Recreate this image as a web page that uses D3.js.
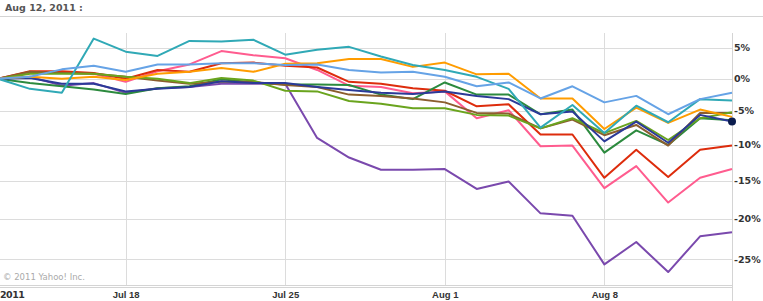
<!DOCTYPE html>
<html>
<head>
<meta charset="utf-8">
<script src="https://cdn.jsdelivr.net/npm/d3@7"></script>
<style>
  body { margin: 0; background: #fff; }
  svg { display: block; font-family: "DejaVu Sans", Verdana, sans-serif; }
  .grid line { stroke: #dcdcdc; stroke-width: 1; shape-rendering: crispEdges; }
  .frame { stroke: #d4d4d4; stroke-width: 1; shape-rendering: crispEdges; }
  .ylab, .xlab { font-size: 9.5px; font-weight: bold; fill: #333; }
  .title { font-size: 9.5px; font-weight: bold; fill: #555; }
  .copy { font-size: 8.5px; fill: #aaa; }
  .series { fill: none; stroke-width: 2; stroke-linejoin: round; }
</style>
</head>
<body>
<svg id="chart" width="763" height="301"></svg>
<script>
// trading days shown on the chart
const dates = ["2011-07-12","2011-07-13","2011-07-14","2011-07-15",
  "2011-07-18","2011-07-19","2011-07-20","2011-07-21","2011-07-22",
  "2011-07-25","2011-07-26","2011-07-27","2011-07-28","2011-07-29",
  "2011-08-01","2011-08-02","2011-08-03","2011-08-04","2011-08-05",
  "2011-08-08","2011-08-09","2011-08-10","2011-08-11","2011-08-12"];

// % change since first day
const purple   = [0, 0.3, -1.1, -0.7, -2.2, -1.5, -1.3, -0.8, -0.8, -0.8, -9.0, -11.8, -13.5, -13.5, -13.4, -16.1, -15.1, -19.3, -19.6, -25.6, -22.9, -26.5, -22.2, -21.7];
const pink     = [0, 0.9, 1.0, 0.8, -0.5, 1.2, 2.3, 4.5, 3.8, 3.3, 1.4, -1.1, -1.3, -2.3, -2.0, -6.1, -4.9, -10.2, -10.1, -16.0, -13.0, -17.9, -14.6, -13.4];
const red      = [0, 1.2, 1.2, 0.9, 0.0, 1.4, 1.1, 2.5, 2.6, 2.1, 1.8, -0.5, -0.8, -1.5, -1.9, -4.3, -4.0, -8.5, -8.5, -14.6, -10.7, -14.5, -10.7, -10.1];
const dkGreen  = [0, -0.7, -1.2, -1.7, -2.4, -1.5, -1.2, -0.1, -0.6, -0.9, -0.9, -1.0, -2.5, -3.2, -0.6, -2.5, -2.5, -5.5, -4.8, -11.1, -7.9, -10.0, -6.1, -6.4];
const brown    = [0, 1.1, 0.9, 0.8, 0.3, -0.3, -0.8, -0.5, -0.5, -1.0, -1.3, -2.5, -2.7, -3.1, -3.7, -5.3, -5.4, -7.6, -6.3, -8.6, -7.1, -10.1, -5.3, -5.3];
const lime     = [0, 0.8, 0.8, 0.8, 0.3, 0.0, -0.7, 0.1, -0.3, -1.9, -2.0, -3.5, -3.9, -4.6, -4.6, -5.6, -5.7, -7.6, -6.1, -8.3, -6.5, -9.3, -6.1, -5.2];
const navy     = [0, 0.1, -0.8, -0.8, -2.0, -1.6, -1.3, -0.4, -0.7, -0.7, -1.3, -1.8, -2.2, -2.4, -2.0, -2.7, -3.2, -5.5, -5.1, -9.5, -6.6, -9.7, -5.6, -6.6];
const orange   = [0, 0.3, 0.0, 0.3, -0.2, 0.8, 1.1, 1.7, 1.1, 2.4, 2.5, 3.2, 3.2, 1.9, 2.6, 0.7, 0.8, -3.1, -3.1, -7.7, -4.5, -6.8, -4.8, -5.9];
const teal     = [0, -1.6, -2.2, 6.6, 4.4, 3.7, 6.2, 6.1, 6.4, 3.9, 4.7, 5.2, 3.6, 2.2, 1.4, 0.3, -1.6, -7.5, -4.1, -8.3, -4.2, -6.7, -3.2, -3.4];
const ltBlue   = [0, 0.3, 1.5, 2.1, 1.1, 2.3, 2.3, 2.5, 2.5, 2.2, 2.3, 1.4, 1.0, 1.1, 0.3, -1.2, -0.6, -3.1, -1.2, -3.7, -2.7, -5.5, -3.2, -2.2];

const seriesList = [purple, pink, red, dkGreen, brown, lime, navy, orange, teal, ltBlue];
const colors = ["#7a49ad", "#ff5c8f", "#dd2c0c", "#2c8a3e", "#8b5e2e", "#6aa41e", "#2b3a98", "#ff9c00", "#30a9b6", "#66a3e6"];

const yTicks = [5, 0, -5, -10, -15, -20, -25];
const xTicks = ["2011-07-18", "2011-07-25", "2011-08-01", "2011-08-08"];
const firstLabel = "2011"; // only the year of the first date label is visible
const titleText = "Aug 12, 2011 :";

const svg = d3.select("#chart");
const headTop = 16, plotTop = 33, plotBottom = 285, plotRight = 732;

const x = d3.scalePoint().domain(dates).range([-2, plotRight]);
// Yahoo compare charts use a log scale on the growth ratio
const y = d3.scaleLog().domain([0.72, 1.105]).range([plotBottom, headTop]);
const yp = p => y(1 + p / 100);
const fmtX = d3.timeFormat("%b %-d");
const parse = d3.timeParse("%Y-%m-%d");

// horizontal grid
svg.append("g").attr("class", "grid")
  .selectAll("line").data(yTicks).join("line")
    .attr("x1", 0).attr("x2", plotRight)
    .attr("y1", d => Math.round(yp(d)) + 0.5).attr("y2", d => Math.round(yp(d)) + 0.5);

// vertical grid at week starts
svg.append("g").attr("class", "grid")
  .selectAll("line").data(xTicks).join("line")
    .attr("x1", d => Math.round(x(d)) + 0.5).attr("x2", d => Math.round(x(d)) + 0.5)
    .attr("y1", plotTop).attr("y2", plotBottom);

// frame
svg.append("line").attr("class", "frame").attr("x1", 0).attr("x2", 763).attr("y1", headTop + 0.5).attr("y2", headTop + 0.5);
svg.append("line").attr("class", "frame").attr("x1", plotRight + 0.5).attr("x2", plotRight + 0.5).attr("y1", plotTop).attr("y2", 301);
svg.append("line").attr("class", "frame").attr("x1", 0).attr("x2", plotRight).attr("y1", plotBottom + 0.5).attr("y2", plotBottom + 0.5);
svg.append("line").attr("class", "frame").attr("x1", 0).attr("x2", plotRight).attr("y1", plotBottom + 2.5).attr("y2", plotBottom + 2.5);

// copyright
svg.append("text").attr("class", "copy").attr("x", 3).attr("y", 280).text("\u00a9 2011 Yahoo! Inc.");

// title
svg.append("text").attr("class", "title").attr("x", 5).attr("y", 11).text(titleText);

// lines
const line = d3.line()
  .x((d, i) => x(dates[i]))
  .y(d => yp(d));

svg.append("g")
  .selectAll("path").data(seriesList).join("path")
    .attr("class", "series")
    .attr("stroke", (d, i) => colors[i])
    .attr("d", line);

// end marker of the main symbol
svg.append("circle")
  .attr("cx", x(dates[dates.length - 1]))
  .attr("cy", yp(navy[navy.length - 1]))
  .attr("r", 4)
  .attr("fill", "#0b1c4e");

// right axis labels
svg.append("g")
  .selectAll("text").data(yTicks).join("text")
    .attr("class", "ylab")
    .attr("x", plotRight + 2)
    .attr("y", d => yp(d))
    .attr("dy", "0.36em")
    .text(d => d + "%");

// bottom axis labels
const xAxis = d3.axisBottom(x)
  .tickValues(xTicks)
  .tickSize(0)
  .tickPadding(0)
  .tickFormat(d => fmtX(parse(d)));
const gx = svg.append("g").attr("transform", `translate(0,${plotBottom + 13})`).call(xAxis);
gx.select(".domain").remove();
gx.selectAll("text").attr("class", "xlab").attr("dy", 0).attr("fill", null);

svg.append("text").attr("class", "xlab")
  .attr("x", 0).attr("y", plotBottom + 13)
  .attr("letter-spacing", "-0.5px")
  .text(firstLabel);
</script>
</body>
</html>
